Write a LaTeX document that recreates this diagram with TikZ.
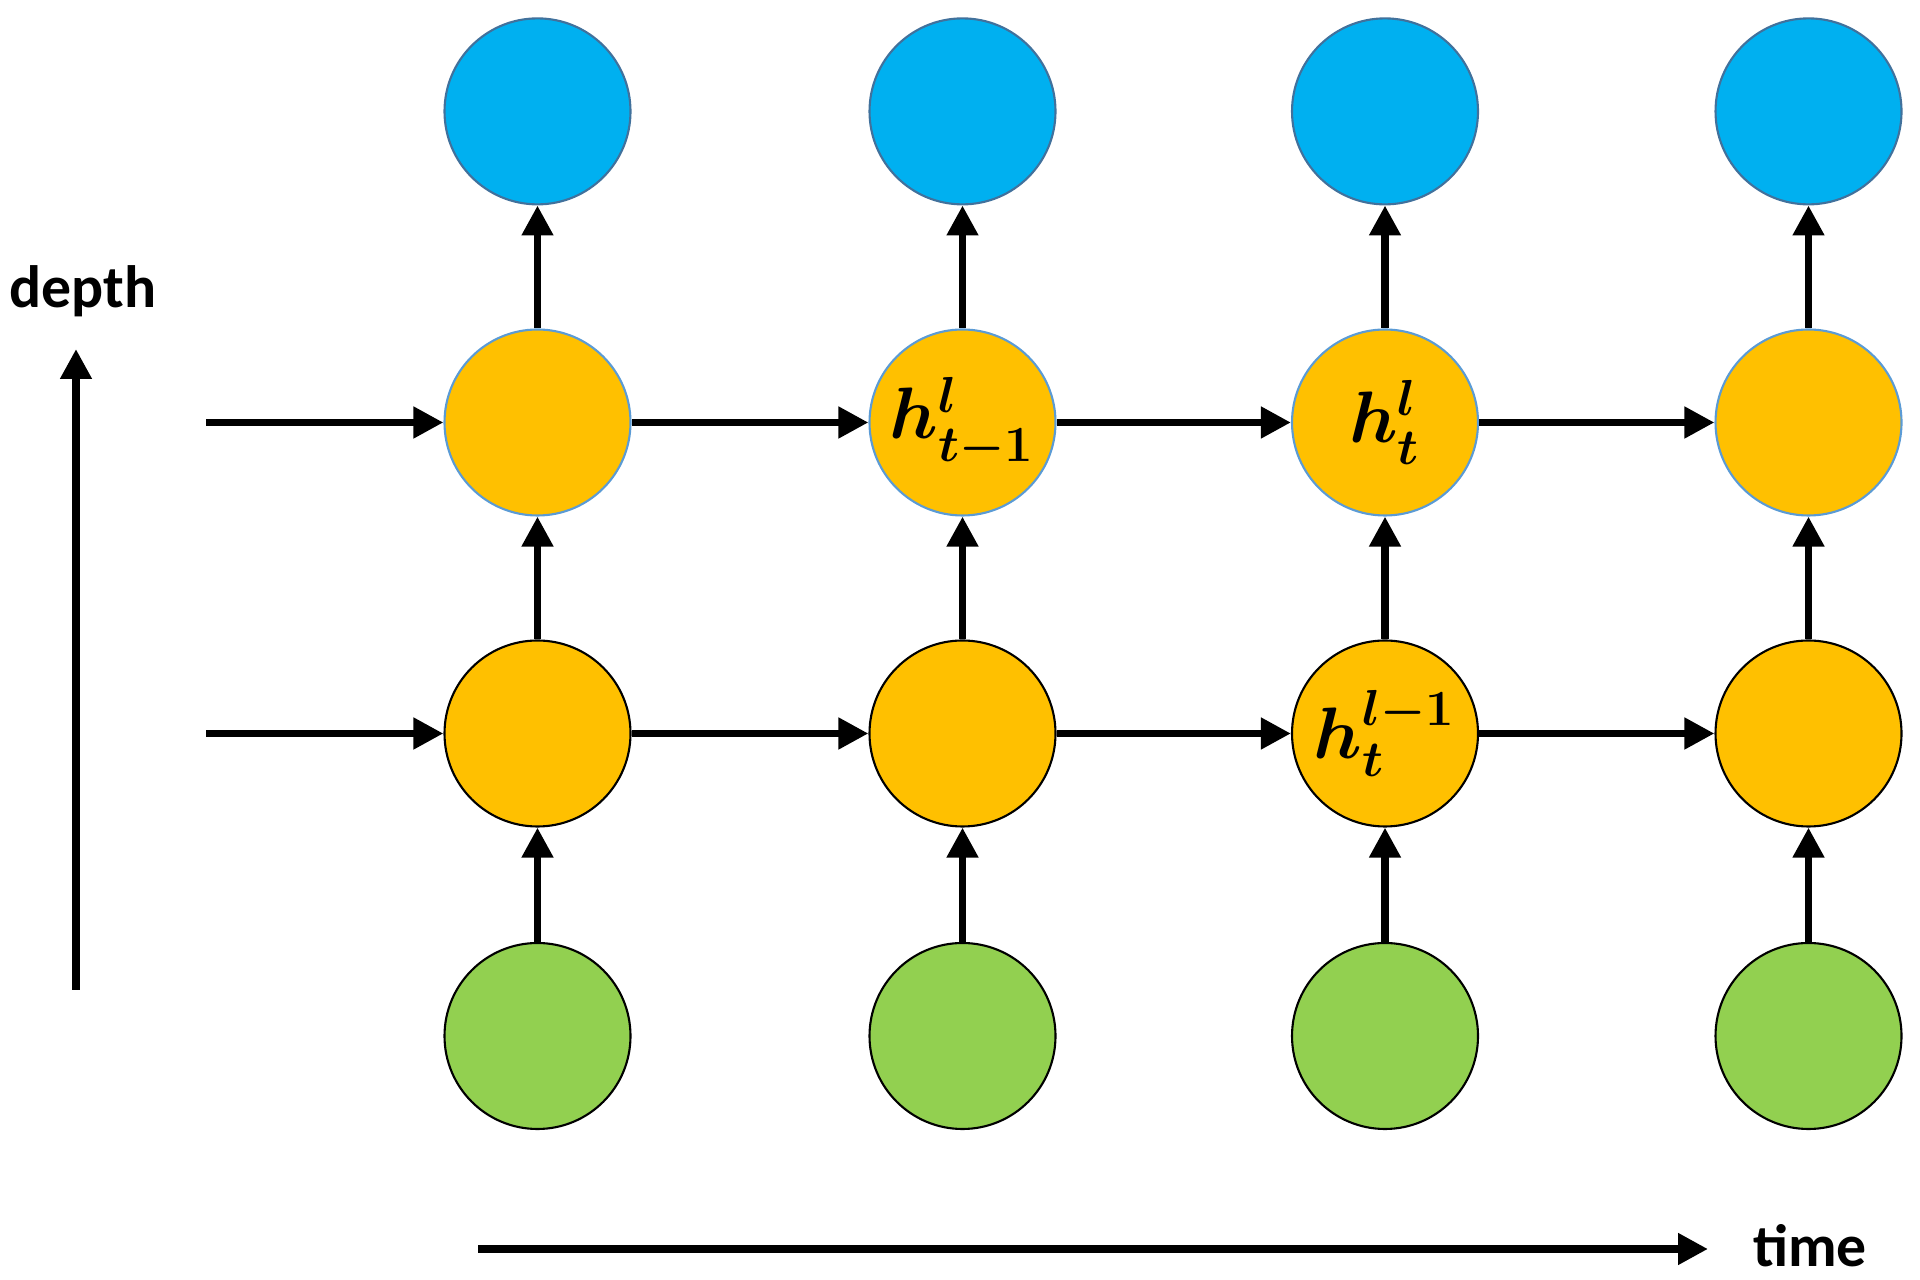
\documentclass[tikz,border=0pt]{standalone}
\usepackage{amsmath,amssymb}
\usepackage{fontspec}
\newfontfamily\labelfont{Carlito}
\usepackage{tikz}
\usetikzlibrary{arrows.meta,positioning}
\definecolor{outblue}{HTML}{00B0F0}
\definecolor{hidyellow}{HTML}{FFC000}
\definecolor{ingreen}{HTML}{92D050}
\definecolor{edgeblue}{HTML}{41719C}
\definecolor{lightedge}{HTML}{5B9BD5}

\begin{document}
\begin{tikzpicture}[>={Triangle[length=3mm,width=3mm]},
  unit/.style={circle,minimum size=1.86cm,inner sep=0pt,line width=0.6pt,
    font=\fontsize{22}{26}\selectfont\boldmath},
  outunit/.style={unit,draw=edgeblue,fill=outblue},
  topunit/.style={unit,draw=lightedge,fill=hidyellow},
  lowunit/.style={unit,draw=black,fill=hidyellow},
  inunit/.style={unit,draw=black,fill=ingreen},
  conn/.style={draw,->,line width=2.2pt},
  every edge/.style={conn},
  axislabel/.style={font=\labelfont\bfseries\fontsize{17}{20}\selectfont}]
  \useasboundingbox (0,0) rectangle (19.2,12.79);
  % output layer
  \node[outunit] (o1) at (5.375,11.676) {};
  \node[outunit] (o2) at (9.625,11.676) {};
  \node[outunit] (o3) at (13.85,11.676) {};
  \node[outunit] (o4) at (18.085,11.676) {};
  % hidden layer l
  \node[topunit] (u1) at (5.375,8.565) {};
  \node[topunit] (u2) at (9.625,8.565) {$h^{l}_{t-1}$};
  \node[topunit] (u3) at (13.85,8.565) {$h^{l}_{t}$};
  \node[topunit] (u4) at (18.085,8.565) {};
  % hidden layer l-1
  \node[lowunit] (d1) at (5.375,5.455) {};
  \node[lowunit] (d2) at (9.625,5.455) {};
  \node[lowunit] (d3) at (13.85,5.455) {$h^{l-1}_{t}$};
  \node[lowunit] (d4) at (18.085,5.455) {};
  % inputs
  \node[inunit] (x1) at (5.375,2.43) {};
  \node[inunit] (x2) at (9.625,2.43) {};
  \node[inunit] (x3) at (13.85,2.43) {};
  \node[inunit] (x4) at (18.085,2.43) {};
  % initial states
  \coordinate (s1) at (2.06,8.565);
  \coordinate (s2) at (2.06,5.455);
  % vertical connections
  \path (x1) edge (d1) (d1) edge (u1) (u1) edge (o1);
  \path (x2) edge (d2) (d2) edge (u2) (u2) edge (o2);
  \path (x3) edge (d3) (d3) edge (u3) (u3) edge (o3);
  \path (x4) edge (d4) (d4) edge (u4) (u4) edge (o4);
  % recurrent connections
  \path (s1) edge (u1) (u1) edge (u2) (u2) edge (u3) (u3) edge (u4);
  \path (s2) edge (d1) (d1) edge (d2) (d2) edge (d3) (d3) edge (d4);
  % axes
  \coordinate (dbase) at (0.76,2.89);
  \coordinate (dtip) at (0.76,9.30);
  \coordinate (tbase) at (4.78,0.30);
  \coordinate (ttip) at (17.08,0.30);
  \draw[conn] (dbase) -- (dtip);
  \draw[conn] (tbase) -- (ttip);
  \node[axislabel] (depth) at (0.83,9.88) {depth};
  \node[axislabel] (time) at (18.10,0.33) {time};
\end{tikzpicture}
\end{document}
